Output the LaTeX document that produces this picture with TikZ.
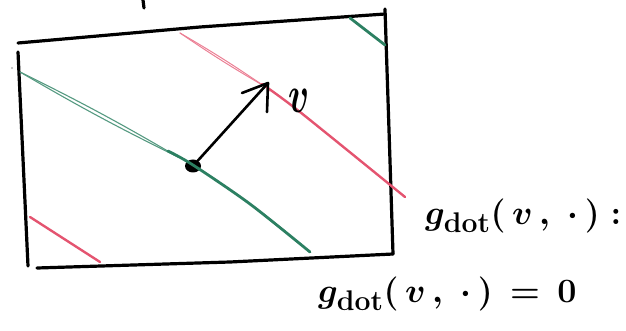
\documentclass[tikz,border=0pt]{standalone}
\usepackage{tikz}
\usetikzlibrary{shapes.geometric}
\definecolor{hgreen}{RGB}{44,128,98}
\definecolor{hred}{RGB}{228,84,112}
\newcommand{\handtext}[1]{\scalebox{1.37}{$#1$}}
\begin{document}
\begin{tikzpicture}[x=1pt,y=-1pt,
  frame/.style={line width=3.2pt, line cap=round, line join=round},
  gsolid/.style={hgreen, line width=2.8pt, line cap=round},
  rsolid/.style={hred, line width=2.4pt, line cap=round},
  gthin/.style={hgreen!80, line width=1.1pt, line cap=round},
  rthin/.style={hred!75, line width=1pt, line cap=round},
  vec/.style={line width=2.6pt, line cap=round, line join=round},
  hand/.style={font=\fontsize{24.88}{30}\selectfont\boldmath, inner sep=0pt}]
\useasboundingbox (0,0) rectangle (626,331);
% frame
\draw[frame] (18,43) -- (200,27) -- (385,14);
\draw[frame] (385,9) -- (389,130) -- (393,254);
\draw[frame] (18,52) -- (28,266);
\draw[frame] (37,268) -- (230,262) -- (393,254);
\draw[frame] (143,0) -- (144,8);
\fill[gray!60] (12,68) circle (1.2);
% coordinates
\coordinate (gA) at (20,72);
\coordinate (gB) at (310,252);
\coordinate (rA) at (180,33);
\coordinate (rB) at (405,197);
\coordinate (tip) at (268,83);
\coordinate (barbL) at (242,93);
\coordinate (barbR) at (267,112);
\node[ellipse, fill=black, minimum width=16pt, minimum height=13pt, inner sep=0pt] (dot) at (193,166) {};
% green level set
\draw[gthin] (gA) to[bend left=2] (178,157);
\draw[gthin] (gA) to[bend right=2] (178,157);
\draw[gsolid] plot[smooth] coordinates {(168,151) (193,165) (250,204) (310,252)};
\draw[gsolid] (350,18) -- (385,45);
% red level set
\draw[rthin] (rA) to[bend left=2] (264,86);
\draw[rthin] (rA) to[bend right=2] (264,86);
\draw[rsolid] plot[smooth] coordinates {(262,84) (300,112) (405,197)};
\draw[rsolid] (30,217) -- (100,262);
% vector
\draw[vec] (dot) -- (tip);
\draw[vec] (barbL) -- (tip) -- (barbR);
\node[hand] (vlab) at (299,101) {\scalebox{1.4}[2.1]{$v$}};
% labels
\node[hand, anchor=west] (lab1) at (425,216) {\handtext{g_{\mathrm{dot}}(\,v\,,\;\cdot\,)\;{:}}};
\node[hand, anchor=west] (lab2) at (318,294) {\handtext{g_{\mathrm{dot}}(\,v\,,\;\cdot\,)\,=\,0}};
\end{tikzpicture}
\end{document}
